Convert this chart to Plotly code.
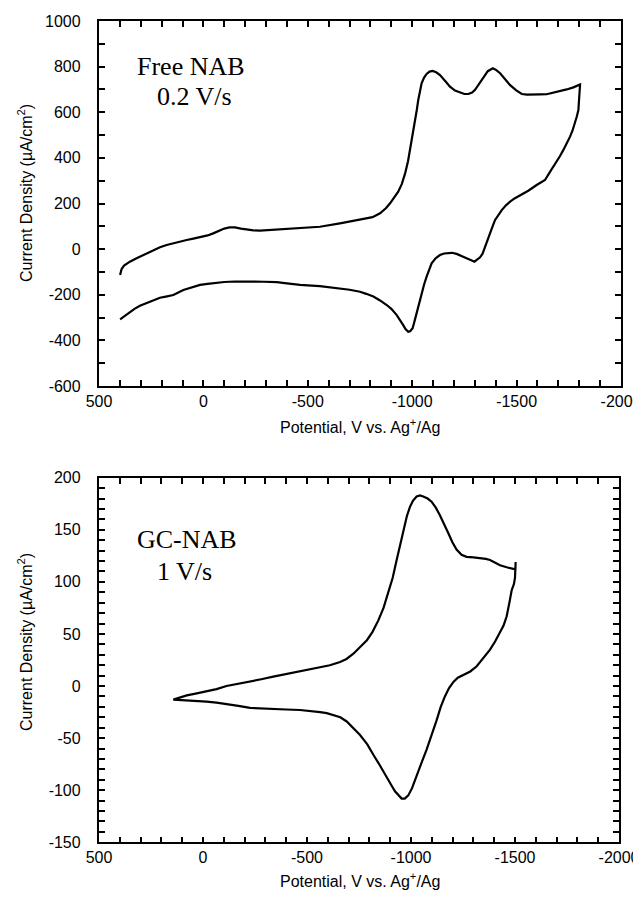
import plotly.graph_objects as go

# ---------------- Data ----------------
# Top panel: Free NAB, 0.2 V/s  (potential in mV, current density in uA/cm2)
free_v = [399, 392, 380, 352, 320, 288, 250, 208, 176, 144, 112, 80, 48, 16, -20, -47, -75, -100,
          -125, -151, -180, -207, -240, -271, -320, -383, -463, -558, -654, -750, -810, -846, -875,
          -894, -915, -933, -950, -966, -980, -990, -1002, -1013, -1022, -1029, -1037, -1045, -1057,
          -1069, -1083, -1098, -1115, -1133, -1157, -1181, -1205, -1229, -1250, -1269, -1287, -1301,
          -1320, -1341, -1362, -1386, -1403, -1421, -1445, -1469, -1497, -1525, -1550, -1580, -1610,
          -1644, -1676, -1708, -1740, -1772, -1804,
          -1800, -1796, -1788, -1780, -1768, -1756, -1740, -1724, -1708, -1692, -1676, -1660, -1636,
          -1616, -1596, -1556, -1516, -1490, -1469, -1449, -1429, -1412, -1397, -1385, -1373, -1360,
          -1349, -1337, -1325, -1310, -1298, -1280, -1261, -1237, -1213, -1190, -1173, -1153, -1133,
          -1112, -1093, -1080, -1069, -1057, -1045, -1033, -1021, -1010, -1002, -990, -981, -968,
          -957, -940, -926, -900, -878, -846, -814, -780, -750, -700, -654, -600, -558, -500, -463,
          -400, -351, -290, -223, -151, -100, -63, -20, 16, 48, 96, 120, 144, 180, 208, 232, 256,
          280, 304, 330, 352, 376, 399]
free_i = [-113, -88, -72, -55, -40, -26, -10, 8, 18, 26, 33, 40, 46, 52, 60, 69, 80, 90,
          95, 95, 90, 85, 82, 81, 84, 88, 94, 98, 113, 128, 140, 157, 180,
          201, 228, 252, 285, 332, 385, 435, 495, 552, 610, 654, 695, 727, 752,
          768, 778, 781, 775, 763, 738, 712, 695, 686, 680, 680, 686, 698,
          725, 756, 780, 793, 785, 771, 746, 719, 697, 680, 677, 676, 678,
          679, 685, 693, 700, 709, 722,
          668, 610, 580, 552, 520, 493, 462, 435, 408, 383, 360, 339, 303,
          290, 281, 256, 237, 222, 208, 192, 171, 150, 128, 100, 69, 35,
          4, -20, -36, -48, -55, -48, -40, -30, -21, -16, -16, -19, -26,
          -40, -62, -90, -121, -155, -194, -238, -281, -320, -347, -360, -362, -350,
          -333, -310, -289, -262, -245, -225, -208, -196, -187, -178, -172, -166, -162, -159, -157,
          -150, -145, -143, -142, -142, -144, -147, -152, -157, -167, -179, -190, -201, -208, -213, -222, -230,
          -239, -248, -262, -277, -292, -308]

# Bottom panel: GC-NAB, 1 V/s
gc_v = [143, 110, 78, 30, -17, -65, -113, -170, -226, -280, -338, -400, -466, -520, -563, -610,
        -659, -690, -723, -755, -788, -815, -843, -868, -891, -912, -931, -948, -963, -980, -995,
        -1010, -1027, -1043, -1059, -1080, -1099, -1120, -1139, -1159, -1179, -1199, -1219, -1243,
        -1267, -1300, -1332, -1360, -1380, -1405, -1428, -1460, -1492, -1502, -1503, -1502,
        -1500, -1495, -1484, -1473, -1460, -1445, -1428, -1405, -1380, -1350, -1316, -1285, -1252,
        -1225, -1204, -1183, -1163, -1143, -1123, -1100, -1075, -1050, -1027, -1005, -987, -970,
        -955, -940, -923, -905, -883, -850, -819, -790, -755, -720, -691, -660, -627, -595, -563,
        -515, -466, -400, -338, -280, -226, -170, -113, -65, -17, 30, 78, 110, 143]
gc_i = [-13, -11, -9, -7, -5, -3, 0, 2, 4, 6.5, 9, 11.5, 14, 16, 17.5, 20,
        23, 26, 31, 37, 44, 52, 63, 75, 89, 104, 121, 136, 150, 163, 172,
        178, 182, 183, 182, 180, 177, 171, 164, 156, 147, 138, 131, 126,
        124, 123.5, 123, 122, 121, 118, 116, 114, 112, 112, 119, 108,
        104, 98, 92, 80, 67, 58, 51, 43, 35, 27, 19, 14, 11,
        8, 4, -2, -10, -20, -33, -47, -61, -74, -87, -98, -105, -108,
        -108, -105, -101, -95, -87, -76, -66, -56, -47, -40, -34, -30, -28, -26, -25,
        -24, -23, -22.5, -22, -21.5, -21, -19, -17, -16, -15, -14.5, -14, -13.5, -13]

# Tick labels (major)
x_tickvals = [500, 0, -500, -1000, -1500, -2000]
x_ticktext = ["500", "0", "-500", "-1000", "-1500", "-2000"]
y1_tickvals = [1000, 800, 600, 400, 200, 0, -200, -400, -600]
y1_ticktext = ["1000", "800", "600", "400", "200", "0", "-200", "-400", "-600"]
y2_tickvals = [200, 150, 100, 50, 0, -50, -100, -150]
y2_ticktext = ["200", "150", "100", "50", "0", "-50", "-100", "-150"]

x_title = "Potential, V vs. Ag<sup>+</sup>/Ag"
y_title = "Current Density (µA/cm<sup>2</sup>)"


def with_minor(vals, texts, lo, hi, step, pad=""):
    """Major ticks with labels plus unlabeled minor tick positions."""
    out_v, out_t = [], []
    lab = dict(zip(vals, texts))
    v = lo
    while v <= hi:
        out_v.append(v)
        out_t.append(lab[v] + pad if v in lab else "")
        v += step
    return out_v, out_t


NB = "\u00a0\u00a0\u00a0"
xv, xt = with_minor(x_tickvals, x_ticktext, -2000, 500, 100)
y1v, y1t = with_minor(y1_tickvals, y1_ticktext, -600, 1000, 100, NB)
y2v, y2t = with_minor(y2_tickvals, y2_ticktext, -150, 200, 10, NB)

# ---------------- Figure ----------------
W, H = 641, 897
OFF = 8  # page body margin offset of the plot div
fig = go.Figure()
line = dict(color="black", width=2.2)
fig.add_trace(go.Scatter(x=free_v, y=free_i, mode="lines", line=line,
                         xaxis="x", yaxis="y", showlegend=False, hoverinfo="skip"))
fig.add_trace(go.Scatter(x=gc_v, y=gc_i, mode="lines", line=line,
                         xaxis="x2", yaxis="y2", showlegend=False, hoverinfo="skip"))

tickfont = dict(family="Liberation Sans, Arial, sans-serif", size=16, color="black")
common = dict(showline=True, linecolor="black", linewidth=1.6, mirror="ticks",
              ticks="inside", ticklen=6, tickwidth=2, tickcolor="black",
              showgrid=False, zeroline=False, tickfont=tickfont, tickmode="array",
              automargin=False)


def px_dom_x(a, b):
    return [(a - OFF) / W, (b - OFF) / W]


def px_dom_y(top, bottom):
    return [1 - (bottom - OFF) / H, 1 - (top - OFF) / H]


fig.update_layout(
    width=W, height=H,
    margin=dict(l=0, r=0, t=0, b=0, pad=0),
    paper_bgcolor="white", plot_bgcolor="white",
    xaxis=dict(**common, domain=px_dom_x(99, 621), range=[500, -2000], anchor="y",
               tickvals=xv, ticktext=xt),
    yaxis=dict(**common, domain=px_dom_y(21, 386), range=[-600, 1000], anchor="x",
               tickvals=y1v, ticktext=y1t),
    xaxis2=dict(**common, domain=px_dom_x(99, 619), range=[500, -2000], anchor="y2",
                tickvals=xv, ticktext=xt),
    yaxis2=dict(**common, domain=px_dom_y(477.7, 842.3), range=[-150, 200], anchor="x2",
                tickvals=y2v, ticktext=y2t),
)

serif = dict(family="Liberation Serif, Times New Roman, serif", size=26, color="black")
titlefont = dict(family="Liberation Sans, Arial, sans-serif", size=16, color="black")
ann = []


def A(text, x, y, font, angle=0):
    ann.append(dict(text=text, x=(x - OFF) / W, y=1 - (y - OFF) / H, xref="paper", yref="paper",
                    xanchor="center", yanchor="middle", showarrow=False,
                    font=font, textangle=angle))


A("Free NAB", 191, 67, serif)
A("0.2 V/s", 194, 96, serif)
A("GC-NAB", 187, 539, serif)
A("1 V/s", 185, 571, serif)
A(x_title, 360, 426, titlefont)
A(x_title, 360, 880, titlefont)
A(y_title, 25, 193, titlefont, -90)
A(y_title, 25, 642, titlefont, -90)
fig.update_layout(annotations=ann)

fig.write_html("out.html")
